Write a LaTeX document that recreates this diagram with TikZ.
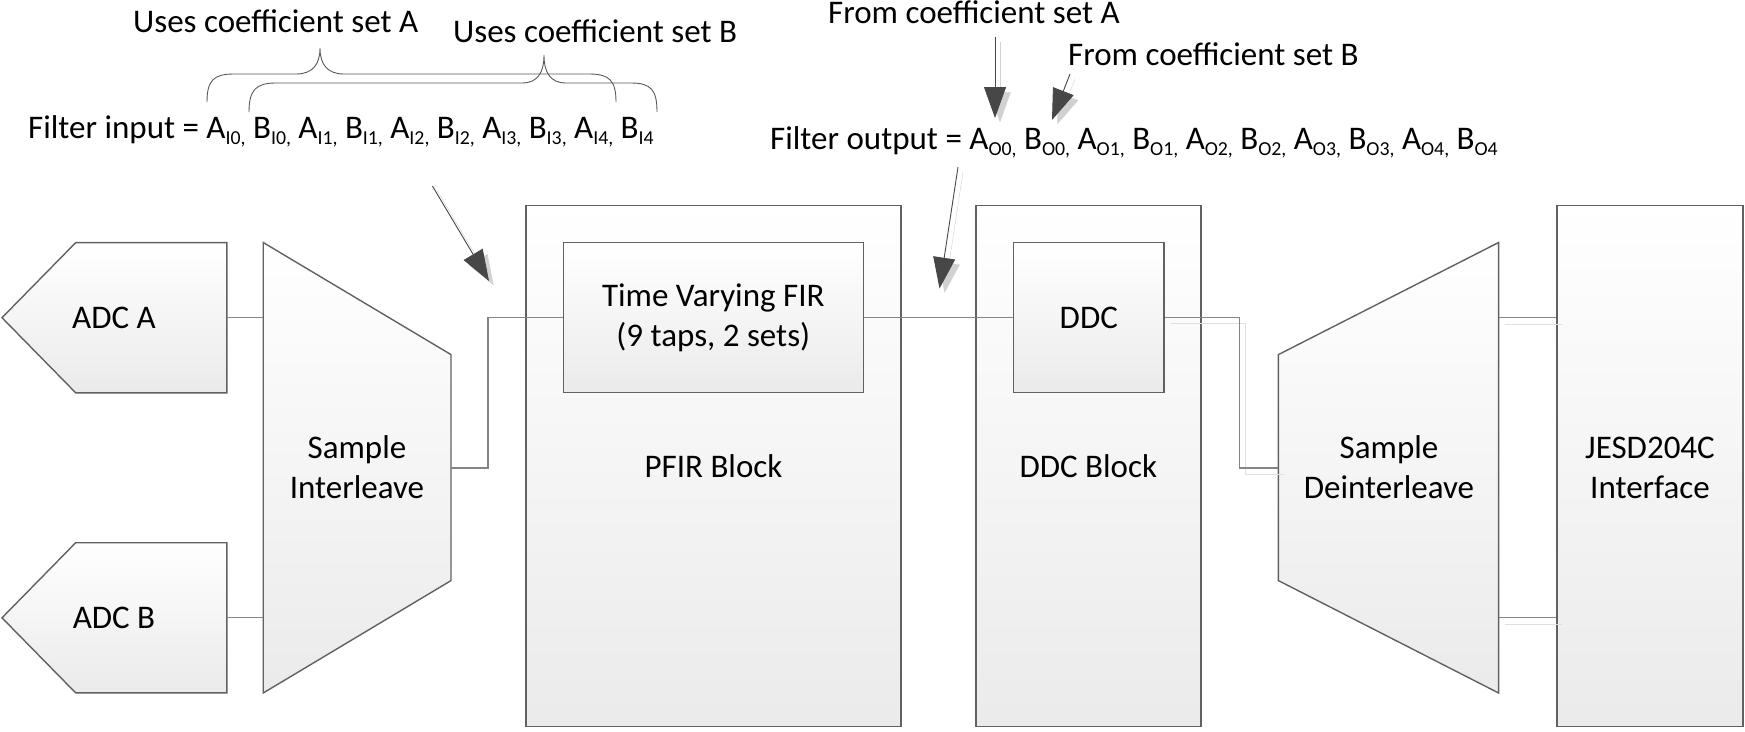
\documentclass[tikz,border=0pt]{standalone}
\usepackage{fontspec}
\setmainfont{Carlito}
\usetikzlibrary{arrows.meta}
\newcommand{\smpidx}[1]{\raisebox{-6pt}{\fontsize{19.8pt}{19.8pt}\selectfont #1}}

\begin{document}
\begin{tikzpicture}[x=1pt,y=-1pt,font=\fontsize{33pt}{40pt}\selectfont,
	blockline/.style={draw=black!62,line width=1.4pt,top color=white,bottom color=black!8},
	blockbox/.style={blockline,rectangle,align=center,inner sep=0pt},
	wire/.style={draw=black!48,line width=1.2pt},
	wireshadow/.style={wire,preaction={draw=black!12,transform canvas={shift={(6pt,-6pt)}}}},
	pointer/.style={draw=black!72,line width=0.9pt,-{Triangle[length=31pt,width=22pt]},preaction={draw=black!18,transform canvas={shift={(5pt,-5pt)}}}},
	bracket/.style={draw=black!65,line width=0.9pt},
	note/.style={anchor=base west,inner sep=0pt}]
		\useasboundingbox (0,0) rectangle (1745,731);

		% outer blocks
		\node[blockbox,minimum width=375pt,minimum height=521pt] (pfir) at (713.5,465.7) {PFIR Block};
		\node[blockbox,minimum width=225pt,minimum height=521pt] (ddcblk) at (1088.3,465.7) {DDC Block};
		\node[blockbox,minimum width=186pt,minimum height=521pt] (jesd) at (1650,465.7) {};
		\node[align=center] (jesdtxt) at (1650,467.5) {JESD204C\\Interface};
		% inner blocks
		\node[blockbox,minimum width=300pt,minimum height=150pt] (fir) at (713.3,317.6) {Time Varying FIR\\(9 taps, 2 sets)};
		\node[blockbox,minimum width=150.5pt,minimum height=150pt] (ddc) at (1088.8,317.6) {DDC};

		\foreach \n / \y in {A/317.7,B/617.8} {
			\draw[blockline] (2,\y) -- ++(73.7,-75.1) -- ++(151.1,0) -- ++(0,150.2) -- ++(-151.1,0) -- cycle;
			\node (adc\n) at (114,\y) {ADC \n};
			\coordinate (adc\n-out) at (226.8,\y);
			\coordinate (intl-in\n) at (263.2,\y);
			\coordinate (deintl-out\n) at (1498.6,\y);
		}

		\draw[blockline] (263.2,242.5) -- (451,354.6) -- (451,580.6) -- (263.2,693) -- cycle;
		\node[align=center] (intl) at (357,467.5) {Sample\\Interleave};
		\coordinate (intl-out) at (451,468);

		\draw[blockline] (1278.4,354.6) -- (1498.6,242.5) -- (1498.6,693) -- (1278.4,580.6) -- cycle;
		\node[align=center] (deintl) at (1389,467.5) {Sample\\Deinterleave};
		\coordinate (deintl-in) at (1278.4,468);

		\foreach \n in {A,B} { \draw[wire] (adc\n-out) -- (intl-in\n);}
		\draw[wire] (intl-out) -- ++(37,0) |- (fir.west);
		\draw[wire] (fir.east) -- (ddc.west);
		\draw[wireshadow] (ddc.east) -- ++(74.5,0) |- (deintl-in);
		\foreach \n in {A,B} { \draw[wireshadow] (deintl-out\n) -- (jesd.west |- deintl-out\n);}

		% sample sequences
		\node[note] (inseq) at (28,138.5) {Filter input = A\smpidx{I0,} B\smpidx{I0,} A\smpidx{I1,} B\smpidx{I1,} A\smpidx{I2,} B\smpidx{I2,} A\smpidx{I3,} B\smpidx{I3,} A\smpidx{I4,} B\smpidx{I4}};
		\node[note] (outseq) at (770,149.5) {Filter output = A\smpidx{O0,} B\smpidx{O0,} A\smpidx{O1,} B\smpidx{O1,} A\smpidx{O2,} B\smpidx{O2,} A\smpidx{O3,} B\smpidx{O3,} A\smpidx{O4,} B\smpidx{O4}};
		\node[note] (usesA) at (133,32) {Uses coefficient set A};
		\node[note] (usesB) at (453,42) {Uses coefficient set B};
		\node[note] (fromA) at (828,23.5) {From coefficient set A};
		\node[note] (fromB) at (1068,65) {From coefficient set B};

		\draw[bracket] (207,102) .. controls (207,80) and (214,74) .. (234,74) -- (296,74) .. controls (313,74) and (320,64) .. (320,48) .. controls (320,64) and (327,74) .. (344,74) -- (589,74) .. controls (609,74) and (616,80) .. (616,102);
		\draw[bracket] (249,112) .. controls (249,90) and (256,83) .. (276,83) -- (522,83) .. controls (538,83) and (544,72) .. (544,55) .. controls (544,72) and (550,83) .. (566,83) -- (631,83) .. controls (651,83) and (657,90) .. (657,112);

		\coordinate (inptr-tail) at (432.4,186);
		\coordinate (inptr-tip) at (489,281);
		\coordinate (midptr-tail) at (958,167);
		\coordinate (midptr-tip) at (939.5,288.5);
		\coordinate (ptrA-tail) at (995,37);
		\coordinate (ptrA-tip) at (995,118);
		\coordinate (ptrB-tail) at (1070,74);
		\coordinate (ptrB-tip) at (1052,120);
		\foreach \p in {inptr,midptr,ptrA,ptrB} { \draw[pointer] (\p-tail) -- (\p-tip);}
	\end{tikzpicture}
\end{document}
